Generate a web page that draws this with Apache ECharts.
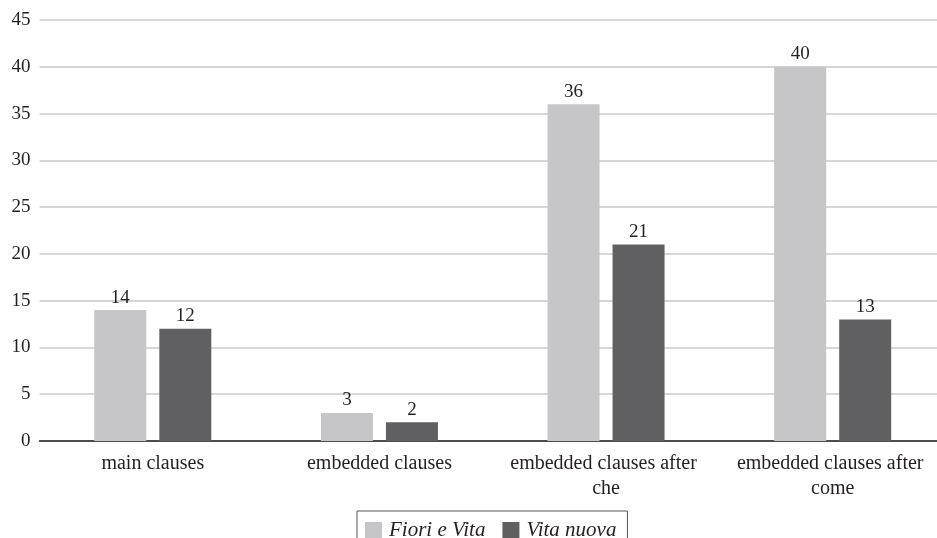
<!DOCTYPE html>
<html>
<head>
<meta charset="utf-8">
<script src="https://cdn.jsdelivr.net/npm/echarts@6/dist/echarts.min.js"></script>
<style>
  html, body { margin: 0; padding: 0; background: #fff; overflow: hidden; }
  #wrap { width: 937px; height: 538px; overflow: hidden; }
  #chart { width: 946px; height: 538px; }
</style>
</head>
<body>
<div id="wrap"><div id="chart"></div></div>
<script>
// Clause types and counts per text
const categories = [
  'main clauses',
  'embedded clauses',
  'embedded clauses after che',
  'embedded clauses after come'
];
const fioriEVita = [14, 3, 36, 40];
const vitaNuova = [12, 2, 21, 13];
const seriesNames = ['Fiori e Vita', 'Vita nuova'];

const serif = '"Liberation Serif", "DejaVu Serif", serif';
const ink = '#231f20';
const chart = echarts.init(document.getElementById('chart'), null, { renderer: 'canvas' });

const valueLabel = {
  show: true,
  position: 'top',
  distance: 3,
  fontFamily: serif,
  fontSize: 19,
  color: ink
};

chart.setOption({
  animation: false,
  grid: { left: 39.5, right: 0, top: 20, bottom: 97, containLabel: false },
  legend: {
    top: 511,
    left: 357,
    itemWidth: 17,
    itemHeight: 17,
    itemGap: 17,
    padding: [9, 11, 8, 8],
    borderColor: '#555',
    borderWidth: 1,
    icon: 'rect',
    textStyle: { fontFamily: serif, fontStyle: 'italic', fontSize: 21, color: ink, padding: [0, 0, 0, 2] },
    data: seriesNames
  },
  xAxis: {
    type: 'category',
    data: categories,
    axisLine: { lineStyle: { color: ink, width: 1.5 } },
    axisTick: { show: false },
    axisLabel: {
      fontFamily: serif,
      fontSize: 20,
      color: ink,
      margin: 10,
      lineHeight: 25,
      width: 205,
      overflow: 'break',
      interval: 0
    }
  },
  yAxis: {
    type: 'value',
    min: 0,
    max: 45,
    interval: 5,
    axisLine: { show: false },
    axisTick: { show: false },
    splitLine: { lineStyle: { color: '#c8c8c8', width: 1.5 } },
    axisLabel: { fontFamily: serif, fontSize: 19, color: ink, margin: 9 }
  },
  series: [
    {
      name: seriesNames[0],
      type: 'bar',
      data: fioriEVita,
      barWidth: 52,
      barGap: '25%',
      itemStyle: { color: '#c6c6c8' },
      label: valueLabel
    },
    {
      name: seriesNames[1],
      type: 'bar',
      data: vitaNuova,
      barWidth: 52,
      barGap: '25%',
      itemStyle: { color: '#606062' },
      label: valueLabel
    }
  ]
});
</script>
</body>
</html>
